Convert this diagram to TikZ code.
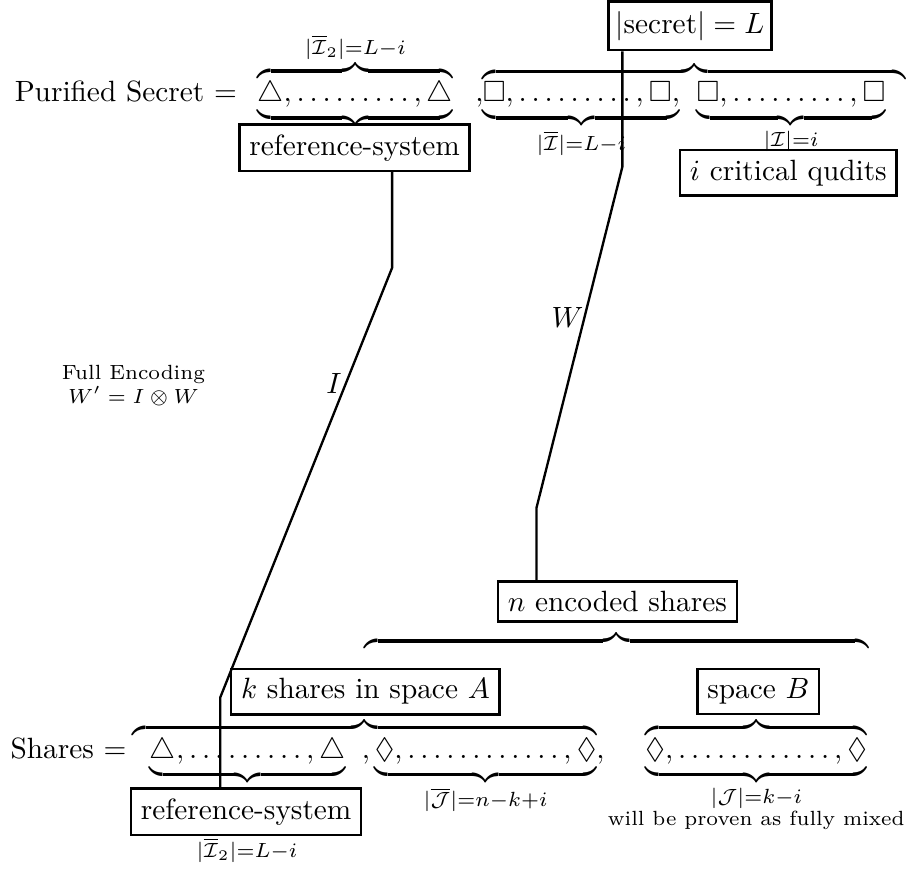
\documentclass[tikz,border=0pt]{standalone}
\usepackage{amsmath}
\usepackage{amssymb}
\usepackage{mathtools}
\usetikzlibrary{positioning,calc}

\begin{document}
\begin{tikzpicture}
\tikzstyle{box}=[rectangle, draw=black, thick]
\tikzstyle{connect}=[thick]
\tikzstyle{row}=[inner sep=0pt, anchor=base west]
\useasboundingbox (0,0) rectangle (10.86,-10.41);

% purified secret row
\node[row] (ps_txt) at (0.17,-1.22) {Purified Secret $=$};
\node[row] (ps_ref) at (3.08,-1.22) {$\overbrace{\underbrace{\triangle,\ldots\ldots\ldots,\triangle}}^{|\overline{\mathcal{I}}_2|=L-i}\hspace{6pt}{,}$};
\node[row] (ps_sec) at (5.78,-1.22) {$\overbrace{\underbrace{\square,\ldots\ldots\ldots,\square,}_{|\overline{\mathcal{I}}|=L-i}\hspace{4pt}\underbrace{\square,\ldots\ldots\ldots,\square}_{|\mathcal{I}|=i}\hspace{7pt}}$};

\node[box, inner xsep=2.4pt] (secret) at (8.27,-0.31) {$|\text{secret}|=L$};
\node[box] (ref_top) at (4.25,-1.77) {reference-system};
\node[box] (crit) at (9.45,-2.07) {$i$ critical qudits};

\node[align=center, font=\scriptsize] (full) at (1.60,-4.62) {Full Encoding\\ $W'=I\otimes W$};

% shares
\node[box] (nenc) at (7.40,-7.21) {$n$ encoded shares};
\node[inner sep=0pt, anchor=south] (nbrace) at (7.39,-7.82) {$\overbrace{\hspace{171.7pt}}$};
\node[box] (k_A) at (4.38,-8.29) {$k$ shares in space $A$};
\node[box] (sp_B) at (9.09,-8.29) {space $B$};

\node[row] (sh_txt) at (0.12,-9.09) {Shares $=$};
\node[row] (sh_A) at (1.58,-9.09) {$\overbrace{\hspace{6pt}\underbrace{\triangle,\ldots\ldots\ldots,\triangle}\;\;,\underbrace{\Diamond,\ldots\ldots\ldots\ldots,\Diamond}_{|\overline{\mathcal{J}}|=n-k+i}}\!{,}$};
\node[row] (sh_B) at (7.73,-9.09) {$\overbrace{\underbrace{\Diamond,\ldots\ldots\ldots\ldots,\Diamond}_{\mathclap{\substack{|\mathcal{J}|=k-i\\ \text{will be proven as fully mixed}}}}}$};

\node[box] (ref_bot) at (2.95,-9.73) {reference-system};
\node[inner sep=0pt] (ref_lbl) at (2.96,-10.19) {$\scriptstyle|\overline{\mathcal{I}}_2|=L-i$};

% bends of the two maps
\coordinate (i_1) at (4.70,-3.21);
\coordinate (i_2) at (2.64,-8.36);
\coordinate (w_1) at (7.46,-2.00);
\coordinate (w_2) at (6.43,-6.09);

\draw[connect] (ref_top.south -| i_1) -- (i_1) -- node[pos=0.27, left, inner sep=1pt] {$I$} (i_2) -- (ref_bot.north -| i_2);
\draw[connect] (secret.south -| w_1) -- (w_1) -- node[pos=0.44, left, inner sep=0pt] {$W$} (w_2) -- (nenc.north -| w_2);
\end{tikzpicture}
\end{document}
